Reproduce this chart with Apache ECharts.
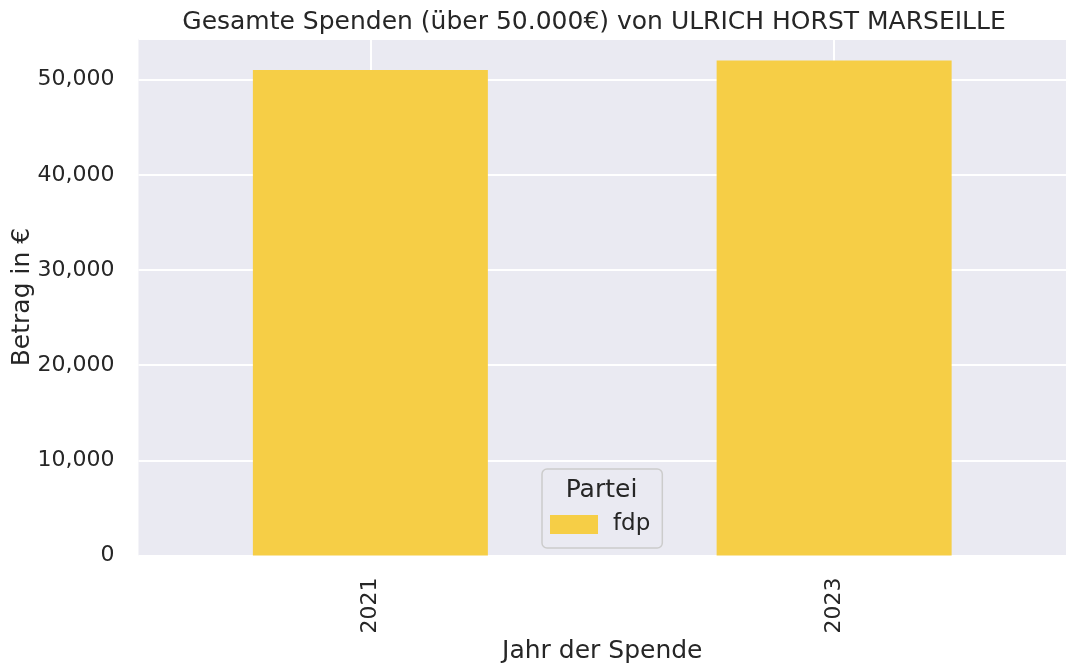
<!DOCTYPE html>
<html>
<head>
<meta charset="utf-8">
<script src="https://cdn.jsdelivr.net/npm/echarts@6/dist/echarts.min.js"></script>
<style>
    html, body { margin: 0; padding: 0; background: #ffffff; }
    #chart { width: 1076px; height: 672px; }
</style>
</head>
<body>
<div id="chart"></div>
<script>
    // Daten
    const years = ['2021', '2023'];
    const fdpValues = [51000, 52000];
    const yTicks = [0, 10000, 20000, 30000, 40000, 50000];
    const partyName = 'fdp';

    const textColor = '#262626';
    const font = 'DejaVu Sans';

    let chart = echarts.init(document.getElementById('chart'));
    chart.setOption({
        animation: false,
        textStyle: {fontFamily: font, color: textColor},
        title: {
            text: 'Gesamte Spenden (über 50.000€) von ULRICH HORST MARSEILLE',
            left: 589,
            top: 5,
            textAlign: 'center',
            textStyle: {fontFamily: font, fontSize: 25, fontWeight: 'normal', color: textColor}
        },
        grid: {
            left: 138.5,
            right: 10,
            top: 38.7,
            bottom: 116.5,
            outerBoundsMode: 'none',
            containLabel: false,
            show: true,
            backgroundColor: '#eaeaf2',
            borderWidth: 0
        },
        legend: {
            data: [partyName],
            left: 542,
            top: 469,
            padding: [44, 12, 12, 8],
            itemWidth: 48,
            itemHeight: 19,
            backgroundColor: '#eaeaf2',
            borderColor: '#cccccc',
            borderWidth: 1.5,
            borderRadius: 5,
            icon: 'rect',
            textStyle: {fontFamily: font, fontSize: 23, color: textColor, padding: [0, 0, 0, 10]}
        },
        graphic: [{
            type: 'text',
            x: 601.5,
            y: 490,
            z: 100,
            style: {
                text: 'Partei',
                fontFamily: font,
                fontSize: 25,
                fill: textColor,
                align: 'center',
                verticalAlign: 'middle'
            }
        }],
        xAxis: {
            type: 'category',
            data: years,
            name: 'Jahr der Spende',
            nameLocation: 'middle',
            nameGap: 83,
            nameMoveOverlap: false,
            nameTextStyle: {fontFamily: font, fontSize: 25, color: textColor},
            axisLine: {show: false},
            axisTick: {show: false},
            axisLabel: {rotate: 90, margin: 22, fontFamily: font, fontSize: 22, color: textColor},
            splitLine: {show: true, alignWithLabel: true, lineStyle: {color: '#ffffff', width: 2}}
        },
        yAxis: {
            type: 'value',
            min: 0,
            max: 54300,
            interval: 10000,
            name: 'Betrag in €',
            nameLocation: 'middle',
            nameGap: 104,
            nameMoveOverlap: false,
            nameTextStyle: {fontFamily: font, fontSize: 25, color: textColor},
            axisLine: {show: false},
            axisTick: {show: false},
            axisLabel: {
                margin: 24,
                fontFamily: font,
                fontSize: 22,
                color: textColor,
                showMaxLabel: false,
                formatter: function (v) {
                    return yTicks.indexOf(v) >= 0 ? v.toLocaleString('en-US') : '';
                }
            },
            splitLine: {show: true, lineStyle: {color: '#ffffff', width: 2}}
        },
        series: [{
            name: partyName,
            type: 'bar',
            barWidth: 235,
            itemStyle: {color: '#f6ce46'},
            data: fdpValues
        }]
    });
</script>
</body>
</html>
